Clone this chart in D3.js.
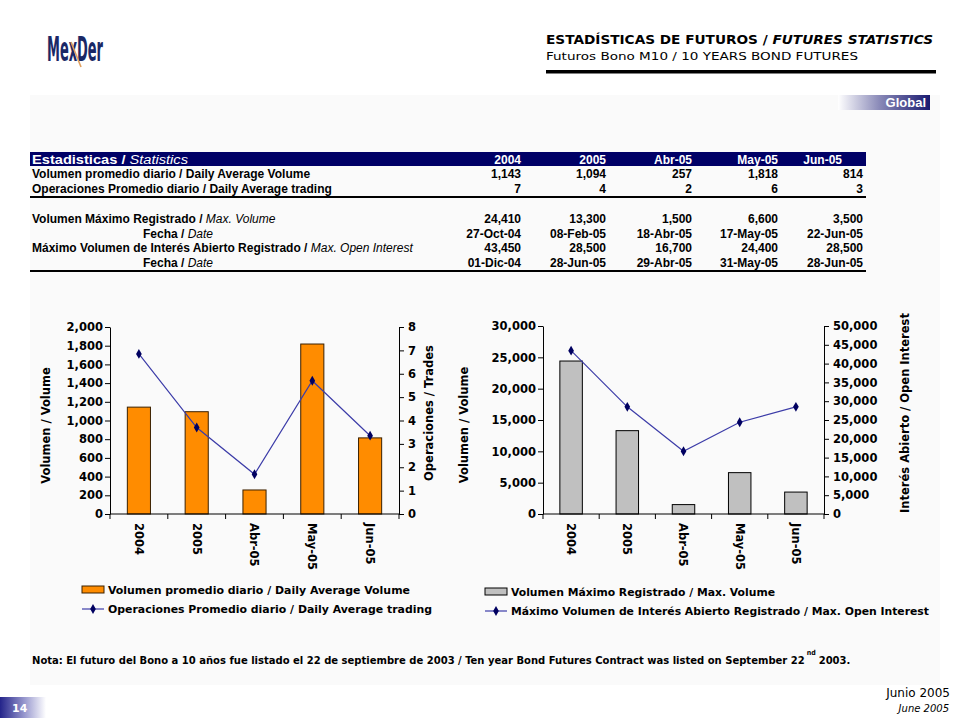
<!DOCTYPE html>
<html><head><meta charset="utf-8">
<script src="https://cdn.jsdelivr.net/npm/d3@7"></script>
<style>
html,body{margin:0;padding:0;background:#fff;}
svg{display:block;}
</style></head>
<body>
<svg id="c" width="960" height="720"></svg>
<script>
// ---- data ----
const categories = ["2004", "2005", "Abr-05", "May-05", "Jun-05"];
const avgVolume = [1143, 1094, 257, 1818, 814];
const avgTrades = [6.85, 3.7, 1.7, 5.7, 3.35];
const avgTradesRounded = [7, 4, 2, 6, 3];
const maxVolume = [24410, 13300, 1500, 6600, 3500];
const maxVolumeDate = ["27-Oct-04", "08-Feb-05", "18-Abr-05", "17-May-05", "22-Jun-05"];
const maxOpenInterest = [43450, 28500, 16700, 24400, 28500];
const maxOpenInterestDate = ["01-Dic-04", "28-Jun-05", "29-Abr-05", "31-May-05", "28-Jun-05"];
const leftVolTicks = [0, 200, 400, 600, 800, 1000, 1200, 1400, 1600, 1800, 2000];
const leftTradeTicks = [0, 1, 2, 3, 4, 5, 6, 7, 8];
const rightVolTicks = [0, 5000, 10000, 15000, 20000, 25000, 30000];
const rightOITicks = [0, 5000, 10000, 15000, 20000, 25000, 30000, 35000, 40000, 45000, 50000];

const svg = d3.select("#c");
const F = "'DejaVu Sans', Verdana, sans-serif";
const A = "'Liberation Sans', Arial, sans-serif";
const fmt = d3.format(",");

svg.append("rect").attr("width", 960).attr("height", 720).attr("fill", "#fff");
// panel
svg.append("rect").attr("x", 30).attr("y", 95).attr("width", 910).attr("height", 590).attr("fill", "#fafafa");

const defs = svg.append("defs");
const g1 = defs.append("linearGradient").attr("id", "gGlobal").attr("x1", "0").attr("x2", "1");
g1.append("stop").attr("offset", "0").attr("stop-color", "#ffffff");
g1.append("stop").attr("offset", "0.45").attr("stop-color", "#8a8ab8");
g1.append("stop").attr("offset", "1").attr("stop-color", "#1a1a70");
const g2 = defs.append("linearGradient").attr("id", "gPage").attr("x1", "0").attr("x2", "1");
g2.append("stop").attr("offset", "0").attr("stop-color", "#24248a");
g2.append("stop").attr("offset", "0.55").attr("stop-color", "#9c9cd0");
g2.append("stop").attr("offset", "1").attr("stop-color", "#ffffff");

// ---- logo ----
svg.append("text").attr("x", 47).attr("y", 61).attr("font-family", "'Liberation Sans Narrow','DejaVu Sans Condensed',sans-serif")
  .attr("font-size", 33).attr("font-weight", "bold").attr("fill", "#1a2866").attr("textLength", 56).attr("lengthAdjust", "spacingAndGlyphs").text("MexDer");
svg.append("line").attr("x1", 71).attr("y1", 42).attr("x2", 81).attr("y2", 67).attr("stroke", "#e0a060").attr("stroke-width", 1.6);

// ---- header ----
const h1 = svg.append("text").attr("x", 546).attr("y", 44).attr("font-family", F).attr("font-size", 11.5).attr("font-weight", "bold")
  .attr("textLength", 387).attr("lengthAdjust", "spacingAndGlyphs");
h1.append("tspan").text("ESTADÍSTICAS DE FUTUROS / ");
h1.append("tspan").attr("font-style", "italic").text("FUTURES STATISTICS");
svg.append("text").attr("x", 546).attr("y", 60).attr("font-family", F).attr("font-size", 11)
  .attr("textLength", 312).attr("lengthAdjust", "spacingAndGlyphs").text("Futuros Bono M10 / 10 YEARS BOND FUTURES");
svg.append("rect").attr("x", 546).attr("y", 70).attr("width", 390).attr("height", 3.5).attr("fill", "#000");

// Global tag
svg.append("rect").attr("x", 838).attr("y", 95).attr("width", 92).attr("height", 15).attr("fill", "url(#gGlobal)");
svg.append("text").attr("x", 926).attr("y", 107).attr("text-anchor", "end").attr("font-family", A).attr("font-weight", "bold")
  .attr("font-size", 13).attr("fill", "#fff").text("Global");

// ---- table ----
const TS = 12;
const colX = [521, 606, 692, 778, 863];
const hdrX = [521, 606, 692, 778, 842];
svg.append("rect").attr("x", 30).attr("y", 152).attr("width", 836).attr("height", 14).attr("fill", "#000066");
const th = svg.append("text").attr("x", 32).attr("y", 163.5).attr("font-family", A).attr("font-size", TS).attr("fill", "#fff")
  .attr("textLength", 156).attr("lengthAdjust", "spacingAndGlyphs");
th.append("tspan").attr("font-weight", "bold").text("Estadisticas / ");
th.append("tspan").attr("font-style", "italic").text("Statistics");
categories.forEach((c, i) => {
  svg.append("text").attr("x", hdrX[i]).attr("y", 163.5).attr("text-anchor", "end").attr("font-family", A)
    .attr("font-size", TS).attr("font-weight", "bold").attr("fill", "#fff").text(c);
});
const rows = [
  {y: 178, label: ["Volumen promedio diario / Daily Average Volume", ""], x: 32, vals: avgVolume.map(fmt)},
  {y: 193, label: ["Operaciones Promedio diario / Daily Average trading", ""], x: 32, vals: avgTradesRounded.map(String)},
  {y: 223, label: ["Volumen Máximo Registrado / ", "Max. Volume"], x: 32, vals: maxVolume.map(fmt)},
  {y: 238, label: ["Fecha / ", "Date"], x: 143, vals: maxVolumeDate},
  {y: 252, label: ["Máximo Volumen de Interés Abierto Registrado / ", "Max. Open Interest"], x: 32, vals: maxOpenInterest.map(fmt)},
  {y: 267, label: ["Fecha / ", "Date"], x: 143, vals: maxOpenInterestDate}
];
rows.forEach(r => {
  const t = svg.append("text").attr("x", r.x).attr("y", r.y).attr("font-family", A).attr("font-size", TS).attr("fill", "#000");
  t.append("tspan").attr("font-weight", "bold").text(r.label[0]);
  if (r.label[1]) t.append("tspan").attr("font-style", "italic").text(r.label[1]);
  r.vals.forEach((v, i) => {
    svg.append("text").attr("x", colX[i]).attr("y", r.y).attr("text-anchor", "end").attr("font-family", A)
      .attr("font-size", TS).attr("font-weight", "bold").text(v);
  });
});
svg.append("rect").attr("x", 30).attr("y", 196).attr("width", 836).attr("height", 2).attr("fill", "#000");
svg.append("rect").attr("x", 30).attr("y", 270).attr("width", 836).attr("height", 2).attr("fill", "#000");

// ---- chart helper ----
function chart(o) {
  const x = d3.scaleBand().domain(categories).range([o.x0, o.x1]).padding(0);
  const yL = d3.scaleLinear().domain([0, o.lMax]).range([o.yB, o.yT]);
  const yR = d3.scaleLinear().domain([0, o.rMax]).range([o.yB, o.yT]);
  const g = svg.append("g");
  const bw = x.bandwidth() * 0.4;
  g.selectAll("rect.bar").data(o.bars).enter().append("rect")
    .attr("x", (d, i) => x(categories[i]) + (x.bandwidth() - bw) / 2)
    .attr("y", d => yL(d)).attr("width", bw).attr("height", d => yL(0) - yL(d))
    .attr("fill", o.barFill).attr("stroke", o.barStroke).attr("stroke-width", 1);
  // axes
  const aL = g.append("g").attr("transform", `translate(${o.x0},0)`)
    .call(d3.axisLeft(yL).tickValues(o.lTicks).tickFormat(fmt).tickSize(5).tickSizeOuter(0).tickPadding(2));
  const aR = g.append("g").attr("transform", `translate(${o.x1},0)`)
    .call(d3.axisRight(yR).tickValues(o.rTicks).tickFormat(fmt).tickSize(5).tickSizeOuter(0).tickPadding(4));
  [aL, aR].forEach(a => {
    a.selectAll("text").attr("font-family", F).attr("font-size", 11.5).attr("font-weight", "bold").attr("fill", "#000");
    a.selectAll("line,path").attr("stroke", "#000");
  });
  // x axis
  const xa = g.append("g");
  xa.append("line").attr("x1", o.x0).attr("x2", o.x1).attr("y1", o.yB).attr("y2", o.yB).attr("stroke", "#000");
  const bounds = categories.map(c => x(c)).concat([o.x1]);
  xa.selectAll("line.t").data(bounds).enter().append("line")
    .attr("x1", d => d).attr("x2", d => d).attr("y1", o.yB).attr("y2", o.yB + 5).attr("stroke", "#000");
  xa.selectAll("text").data(categories).enter().append("text")
    .attr("transform", d => `translate(${x(d) + x.bandwidth() / 2},${o.yB + 9}) rotate(90)`)
    .attr("dy", "0.35em").attr("font-family", F).attr("font-size", 11.5).attr("font-weight", "bold").text(d => d);
  // line
  const ln = d3.line().x((d, i) => x(categories[i]) + x.bandwidth() / 2).y(d => yR(d));
  g.append("path").datum(o.line).attr("d", ln).attr("fill", "none").attr("stroke", "#3c3ca8").attr("stroke-width", 1.2);
  g.selectAll("path.m").data(o.line).enter().append("path")
    .attr("d", d3.symbol().type(d3.symbolDiamond).size(28))
    .attr("transform", (d, i) => `translate(${x(categories[i]) + x.bandwidth() / 2},${yR(d)})`)
    .attr("fill", "#000060");
  // titles
  g.append("text").attr("transform", `translate(${o.tL},${(o.yB + o.yT) / 2 + 5}) rotate(-90)`)
    .attr("text-anchor", "middle").attr("font-family", F).attr("font-size", 11.5).attr("font-weight", "bold").text(o.titleL);
  g.append("text").attr("transform", `translate(${o.tR},${o.tRy}) rotate(-90)`)
    .attr("text-anchor", "middle").attr("font-family", F).attr("font-size", 11.5).attr("font-weight", "bold").text(o.titleR);
}

chart({x0: 110, x1: 399, yT: 327, yB: 514, lMax: 2000, rMax: 8, lTicks: leftVolTicks, rTicks: leftTradeTicks,
  bars: avgVolume, line: avgTrades, barFill: "#ff8c00", barStroke: "#3a2000",
  titleL: "Volumen / Volume", titleR: "Operaciones / Trades", tL: 50, tR: 433, tRy: 413});
chart({x0: 543, x1: 824, yT: 326, yB: 514, lMax: 30000, rMax: 50000, lTicks: rightVolTicks, rTicks: rightOITicks,
  bars: maxVolume, line: maxOpenInterest, barFill: "#c0c0c0", barStroke: "#000",
  titleL: "Volumen / Volume", titleR: "Interés Abierto / Open Interest", tL: 468, tR: 909, tRy: 413});

// ---- legends ----
const LF = "'DejaVu Sans Condensed','DejaVu Sans',sans-serif";
function legBar(x, y, fill, stroke, label, w) {
  svg.append("rect").attr("x", x).attr("y", y - 4).attr("width", 22).attr("height", 7).attr("fill", fill).attr("stroke", stroke).attr("stroke-width", 1);
  svg.append("text").attr("x", x + 26).attr("y", y + 4).attr("font-family", LF).attr("font-weight", "bold").attr("font-size", 11)
    .attr("textLength", w).attr("lengthAdjust", "spacingAndGlyphs").text(label);
}
function legLine(x, y, label, w) {
  svg.append("line").attr("x1", x).attr("x2", x + 22).attr("y1", y).attr("y2", y).attr("stroke", "#3c3ca8").attr("stroke-width", 1.2);
  svg.append("path").attr("d", d3.symbol().type(d3.symbolDiamond).size(28)).attr("transform", `translate(${x + 11},${y})`).attr("fill", "#000060");
  svg.append("text").attr("x", x + 26).attr("y", y + 4).attr("font-family", LF).attr("font-weight", "bold").attr("font-size", 11)
    .attr("textLength", w).attr("lengthAdjust", "spacingAndGlyphs").text(label);
}
legBar(82, 590, "#ff8c00", "#3a2000", "Volumen promedio diario / Daily Average Volume", 302);
legLine(82, 609, "Operaciones Promedio diario / Daily Average trading", 324);
legBar(485, 592, "#c0c0c0", "#000", "Volumen Máximo Registrado / Max. Volume", 264);
legLine(485, 611, "Máximo Volumen de Interés Abierto Registrado / Max. Open Interest", 418);

// ---- note (font size fitted so natural width matches reference) ----
const NFam = "'Liberation Sans Narrow','DejaVu Sans Condensed',sans-serif";
const mainW = 774;
const nMain = svg.append("text").attr("x", 32).attr("y", 664).attr("font-family", NFam).attr("font-weight", "bold").attr("font-size", 12)
  .text("Nota: El futuro del Bono a 10 años fue listado el 22 de septiembre de 2003 / Ten year Bond Futures Contract was listed on September 22");
const fs = 12 * mainW / nMain.node().getComputedTextLength();
nMain.attr("font-size", fs);
const mEnd = 32 + nMain.node().getComputedTextLength();
const nSup = svg.append("text").attr("x", mEnd + 2).attr("y", 655).attr("font-family", NFam).attr("font-weight", "bold").attr("font-size", 7).text("nd");
const supEnd = mEnd + 2 + nSup.node().getComputedTextLength();
svg.append("text").attr("x", supEnd + 3).attr("y", 664).attr("font-family", NFam).attr("font-weight", "bold").attr("font-size", fs).text("2003.");

// ---- footer ----
svg.append("text").attr("x", 950).attr("y", 697).attr("text-anchor", "end").attr("font-family", F).attr("font-size", 12).text("Junio 2005");
svg.append("text").attr("x", 949).attr("y", 712).attr("text-anchor", "end").attr("font-family", F).attr("font-size", 10).attr("font-style", "italic").text("June 2005");
svg.append("rect").attr("x", 0).attr("y", 697).attr("width", 46).attr("height", 21).attr("fill", "url(#gPage)");
svg.append("text").attr("x", 12).attr("y", 712).attr("font-family", F).attr("font-size", 11).attr("font-weight", "bold").attr("fill", "#fff").text("14");
</script>
</body></html>
